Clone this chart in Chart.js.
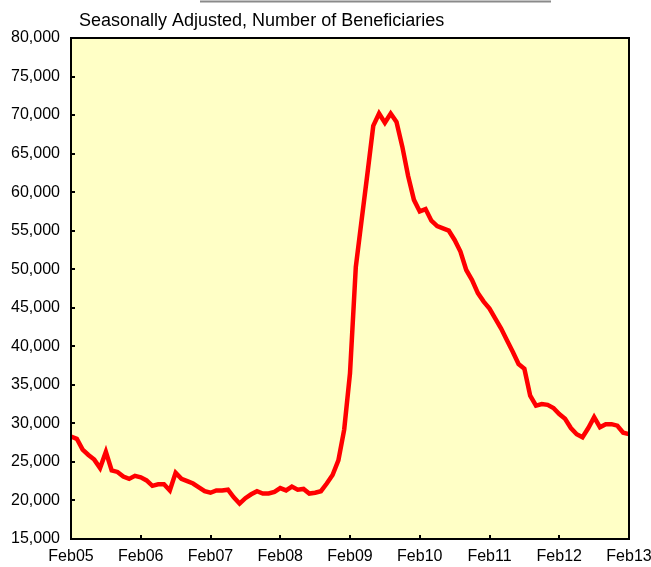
<!DOCTYPE html>
<html>
<head>
<meta charset="utf-8">
<script src="https://cdn.jsdelivr.net/npm/chart.js@4/dist/chart.umd.min.js"></script>
<style>
  html, body { margin: 0; padding: 0; background: #fff; }
  #wrap { width: 651px; height: 567px; position: relative; }
</style>
</head>
<body>
<div id="wrap"><canvas id="chart"></canvas></div>
<script>
// monthly, Feb05 .. Feb13
const months = ['Jan','Feb','Mar','Apr','May','Jun','Jul','Aug','Sep','Oct','Nov','Dec'];
const xTickLabels = ['Feb05','Feb06','Feb07','Feb08','Feb09','Feb10','Feb11','Feb12','Feb13'];
const beneficiaries = [
  28300, 28000, 26600, 25900, 25300, 24200, 26300, 23900, 23700, 23100, 22800, 23200,
  23000, 22600, 21900, 22100, 22100, 21300, 23600, 22800, 22500, 22200, 21700, 21200,
  21000, 21300, 21300, 21400, 20400, 19600, 20300, 20800, 21200, 20900, 20900, 21100,
  21600, 21300, 21800, 21400, 21500, 20900, 21000, 21200, 22200, 23300, 25200, 29200,
  36500, 50300, 56400, 62400, 68600, 70200, 69000, 70200, 69100, 65900, 62100, 59000,
  57500, 57800, 56300, 55600, 55300, 55000, 53800, 52300, 49900, 48600, 46900, 45800,
  44900, 43600, 42300, 40800, 39300, 37700, 37100, 33600, 32300, 32500, 32400, 32000,
  31200, 30600, 29400, 28600, 28200, 29400, 30800, 29500, 29900, 29900, 29700, 28800,
  28600
];
const titleText = 'Seasonally Adjusted, Number of Beneficiaries';

var labels = [];
for (var i = 0; i < beneficiaries.length; i++) {
  var m = (1 + i) % 12;
  var y = 5 + Math.floor((1 + i) / 12);
  labels.push(months[m] + (y < 10 ? '0' + y : '' + y));
}

const FONT = "'Liberation Sans', Arial, sans-serif";

const cadre = {
  id: 'cadre',
  beforeDraw: function(chart) {
    var a = chart.chartArea, ctx = chart.ctx;
    ctx.save();
    ctx.fillStyle = '#FFFFC6';
    ctx.fillRect(a.left, a.top, a.right - a.left, a.bottom - a.top);
    ctx.restore();
  },
  afterDraw: function(chart) {
    var a = chart.chartArea, ctx = chart.ctx;
    var xs = chart.scales.x, ys = chart.scales.y;
    ctx.save();
    // stray line at the very top
    ctx.strokeStyle = '#8a8a8a';
    ctx.lineWidth = 2;
    ctx.beginPath();
    ctx.moveTo(200, 1.5);
    ctx.lineTo(551, 1.5);
    ctx.stroke();
    // frame
    ctx.strokeStyle = '#000';
    ctx.lineWidth = 2;
    ctx.strokeRect(a.left, a.top, a.right - a.left, a.bottom - a.top);
    // inward tick marks
    ctx.lineWidth = 2;
    ctx.beginPath();
    ys.ticks.forEach(function(t) {
      var py = Math.round(ys.getPixelForValue(t.value));
      ctx.moveTo(a.left, py);
      ctx.lineTo(a.left + 4, py);
    });
    for (var k = 12; k < labels.length - 1; k += 12) {
      var px = Math.round(xs.getPixelForValue(k));
      ctx.moveTo(px, a.bottom);
      ctx.lineTo(px, a.bottom - 4);
    }
    ctx.stroke();
    // title
    ctx.fillStyle = '#000';
    ctx.font = '18px ' + FONT;
    ctx.textBaseline = 'alphabetic';
    ctx.textAlign = 'left';
    ctx.fillText(titleText, a.left + 8, a.top - 12);
    ctx.restore();
  }
};

new Chart(document.getElementById('chart'), {
  type: 'line',
  data: {
    labels: labels,
    datasets: [{
      data: beneficiaries,
      borderColor: '#FF0000',
      borderWidth: 4.5,
      pointRadius: 0,
      tension: 0,
      fill: false
    }]
  },
  options: {
    responsive: true,
    maintainAspectRatio: false,
    animation: false,
    layout: { padding: { top: 38, right: 22, left: 0, bottom: 0 } },
    plugins: { legend: { display: false }, tooltip: { enabled: false } },
    scales: {
      x: {
        type: 'category',
        offset: false,
        grid: { display: false, drawTicks: false },
        border: { display: false },
        afterFit: function(s) { s.height = 28; s.paddingLeft = 0; s.paddingRight = 0; },
        ticks: {
          autoSkip: false,
          maxRotation: 0,
          padding: 8,
          color: '#000',
          font: { family: FONT, size: 16 },
          callback: function(v, idx) { return idx % 12 === 0 ? xTickLabels[idx / 12] : ''; }
        }
      },
      y: {
        min: 15000,
        max: 80000,
        grid: { display: false, drawTicks: false },
        border: { display: false },
        afterFit: function(s) { s.width = 71; s.paddingTop = 0; s.paddingBottom = 0; },
        ticks: {
          stepSize: 5000,
          padding: 11,
          color: '#000',
          font: { family: FONT, size: 16 },
          callback: function(v) { return v.toLocaleString('en-US'); }
        }
      }
    }
  },
  plugins: [cadre]
});
</script>
</body>
</html>
